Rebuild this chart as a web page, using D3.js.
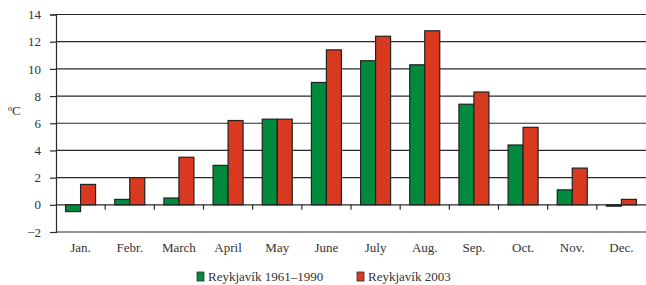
<!DOCTYPE html>
<html>
<head>
<meta charset="utf-8">
<script src="https://cdn.jsdelivr.net/npm/d3@7"></script>
<style>
  body { margin: 0; background: #fff; }
  text { font-family: "Liberation Serif", "DejaVu Serif", serif; fill: #333; }
</style>
</head>
<body>
<div class="chart"></div>
<script>
const months = ["Jan.", "Febr.", "March", "April", "May", "June", "July", "Aug.", "Sep.", "Oct.", "Nov.", "Dec."];
const normal = [-0.5, 0.4, 0.5, 2.9, 6.3, 9.0, 10.6, 10.3, 7.4, 4.4, 1.1, -0.1];
const y2003 = [1.5, 2.0, 3.5, 6.2, 6.3, 11.4, 12.4, 12.8, 8.3, 5.7, 2.7, 0.4];
const yTicks = [-2, 0, 2, 4, 6, 8, 10, 12, 14];
const seriesNames = ["Reykjavík 1961–1990", "Reykjavík 2003"];
const colors = ["#008a3e", "#d9391f"];

const width = 646, height = 285;
const margin = {top: 14.5, right: 0, bottom: 53, left: 56};

const svg = d3.select(".chart").append("svg")
    .attr("width", width)
    .attr("height", height);

const x = d3.scaleBand()
    .domain(months)
    .range([margin.left, width - margin.right]);

const x1 = d3.scaleBand()
    .domain([0, 1])
    .range([0, 30]);

const y = d3.scaleLinear()
    .domain([-2, 14])
    .range([height - margin.bottom, margin.top]);

// gridlines
svg.append("g")
    .selectAll("line")
    .data(yTicks)
    .enter()
    .append("line")
    .attr("x1", margin.left)
    .attr("x2", width)
    .attr("y1", d => y(d))
    .attr("y2", d => y(d))
    .attr("stroke", "#2a2a2a")
    .attr("stroke-width", 1.2);

// y axis
let yAxis = d3.axisLeft(y).tickValues(yTicks).tickSize(6).tickPadding(9);
const yg = svg.append("g")
    .attr("transform", `translate(${margin.left},0)`)
    .call(yAxis);
yg.select(".domain").attr("stroke", "#2a2a2a").attr("stroke-width", 1.2);
yg.selectAll(".tick line").attr("stroke", "#2a2a2a").attr("stroke-width", 1.2);
yg.selectAll(".tick text")
    .style("font-family", "Liberation Serif")
    .style("font-size", "13px")
    .attr("fill", "#333");

svg.append("text")
    .attr("x", 8)
    .attr("y", 115)
    .style("font-size", "13px")
    .text("ºC");

// bars
const groups = svg.selectAll(".month")
    .data(months)
    .enter()
    .append("g")
    .attr("class", "month")
    .attr("transform", d => `translate(${x(d) + x.bandwidth() / 2 - 15},0)`);

[normal, y2003].forEach((vals, s) => {
    groups.append("rect")
        .attr("x", x1(s))
        .attr("width", x1.bandwidth())
        .attr("y", (d, i) => y(Math.max(0, vals[i])))
        .attr("height", (d, i) => Math.abs(y(vals[i]) - y(0)))
        .attr("fill", colors[s])
        .attr("stroke", "#222")
        .attr("stroke-width", 1.2);
});

// zero line ticks between months
svg.append("g")
    .selectAll("line")
    .data(months.slice(1))
    .enter()
    .append("line")
    .attr("x1", d => x(d))
    .attr("x2", d => x(d))
    .attr("y1", y(0))
    .attr("y2", y(0) + 5)
    .attr("stroke", "#2a2a2a")
    .attr("stroke-width", 1.2);

// month labels
svg.append("g")
    .selectAll("text")
    .data(months)
    .enter()
    .append("text")
    .attr("x", d => x(d) + x.bandwidth() / 2)
    .attr("y", 252)
    .attr("text-anchor", "middle")
    .style("font-size", "13px")
    .text(d => d);

// legend
const legX = [197, 357];
const leg = svg.selectAll(".legend")
    .data(seriesNames)
    .enter()
    .append("g")
    .attr("class", "legend")
    .attr("transform", (d, i) => `translate(${legX[i]},272)`);
leg.append("rect")
    .attr("width", 7)
    .attr("height", 9)
    .attr("fill", (d, i) => colors[i])
    .attr("stroke", "#333")
    .attr("stroke-width", 0.8);
leg.append("text")
    .attr("x", 11)
    .attr("y", 9)
    .style("font-size", "13px")
    .text(d => d);
</script>
</body>
</html>
